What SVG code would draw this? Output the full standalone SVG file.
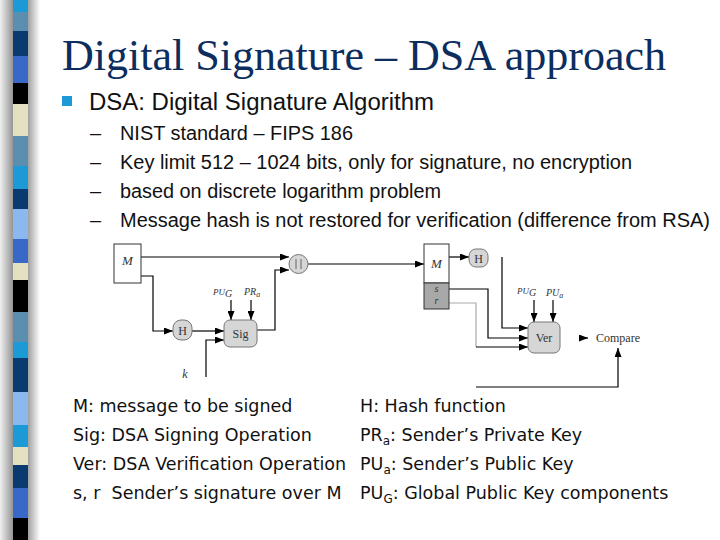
<svg xmlns="http://www.w3.org/2000/svg" width="720" height="540" viewBox="0 0 720 540">
<defs>
<linearGradient id="shL" x1="0" x2="1" y1="0" y2="0"><stop offset="0" stop-color="#f0f0f0"/><stop offset="1" stop-color="#959595"/></linearGradient>
<linearGradient id="shR" x1="0" x2="1" y1="0" y2="0"><stop offset="0" stop-color="#a0a0a0"/><stop offset="1" stop-color="#ffffff"/></linearGradient>
<marker id="ah" viewBox="0 0 9 7" refX="9" refY="3.5" markerWidth="9" markerHeight="7" markerUnits="userSpaceOnUse" orient="auto"><path d="M0,0 L9,3.5 L0,7 z" fill="#000"/></marker>
<style>
.title{font-family:"Liberation Serif",serif;font-size:44px;fill:#0c2d5e}
.b1{font-family:"Liberation Sans",Arial,sans-serif;font-size:23px;fill:#111}
.b2{font-family:"Liberation Sans",Arial,sans-serif;font-size:20px;fill:#111}
.lg{font-family:"DejaVu Sans",Verdana,sans-serif;font-size:17.5px;fill:#111}
.dt{font-family:"Liberation Serif",serif;font-size:12px;fill:#333}
.di{font-family:"Liberation Serif",serif;font-style:italic;fill:#333}
.box{fill:#fff;stroke:#333;stroke-width:1}
.nd{fill:#d6d6d6;stroke:#777;stroke-width:1}
.cn{fill:none;stroke:#000;stroke-width:1.2}
.cg{fill:none;stroke:#aaa;stroke-width:1.2}
</style>
</defs>
<rect width="720" height="540" fill="#fff"/>
<g id="strip">
<rect x="0" y="0" width="13" height="540" fill="url(#shL)"/>
<rect x="28" y="0" width="12" height="540" fill="url(#shR)"/>
<rect x="13" y="0" width="15" height="12" fill="#1c9ad6"/>
<rect x="13" y="12" width="15" height="19" fill="#5a8fb0"/>
<rect x="13" y="31" width="15" height="25" fill="#0a3a70"/>
<rect x="13" y="56" width="15" height="27" fill="#3868c8"/>
<rect x="13" y="83" width="15" height="21" fill="#000"/>
<rect x="13" y="104" width="15" height="32" fill="#e3e1c1"/>
<rect x="13" y="136" width="15" height="30" fill="#5a8fb0"/>
<rect x="13" y="166" width="15" height="23" fill="#1c9ad6"/>
<rect x="13" y="189" width="15" height="20" fill="#0a3a70"/>
<rect x="13" y="209" width="15" height="30" fill="#8cb8f0"/>
<rect x="13" y="239" width="15" height="24" fill="#3868c8"/>
<rect x="13" y="263" width="15" height="17" fill="#e3e1c1"/>
<rect x="13" y="280" width="15" height="32" fill="#000"/>
<rect x="13" y="312" width="15" height="30" fill="#5a8fb0"/>
<rect x="13" y="342" width="15" height="16" fill="#1c9ad6"/>
<rect x="13" y="358" width="15" height="34" fill="#0a3a70"/>
<rect x="13" y="392" width="15" height="33" fill="#8cb8f0"/>
<rect x="13" y="425" width="15" height="22" fill="#1c9ad6"/>
<rect x="13" y="447" width="15" height="18" fill="#e3e1c1"/>
<rect x="13" y="465" width="15" height="23" fill="#0a3a70"/>
<rect x="13" y="488" width="15" height="30" fill="#3868c8"/>
<rect x="13" y="518" width="15" height="22" fill="#000"/>
</g>
<text class="title" x="62" y="70" textLength="604" lengthAdjust="spacingAndGlyphs">Digital Signature – DSA approach</text>
<g id="bullets">
<rect x="62" y="96" width="10" height="10" fill="#1c9ad6"/>
<text class="b1" x="89" y="110" textLength="345" lengthAdjust="spacingAndGlyphs">DSA: Digital Signature Algorithm</text>
<text class="b2" x="90" y="140">–</text>
<text class="b2" x="120" y="140" textLength="233" lengthAdjust="spacingAndGlyphs">NIST standard – FIPS 186</text>
<text class="b2" x="90" y="169">–</text>
<text class="b2" x="120" y="169" textLength="512" lengthAdjust="spacingAndGlyphs">Key limit 512 – 1024 bits, only for signature, no encryption</text>
<text class="b2" x="90" y="198">–</text>
<text class="b2" x="120" y="198" textLength="321" lengthAdjust="spacingAndGlyphs">based on discrete logarithm problem</text>
<text class="b2" x="90" y="227">–</text>
<text class="b2" x="120" y="227" textLength="590" lengthAdjust="spacingAndGlyphs">Message hash is not restored for verification (difference from RSA)</text>
</g>
<g id="connectors">
<path class="cn" d="M141,257 H289" marker-end="url(#ah)"/>
<path class="cn" d="M141,276 H153 V331 H173" marker-end="url(#ah)"/>
<path class="cn" d="M192,331 H224" marker-end="url(#ah)"/>
<path class="cn" d="M206,377 V340 H224" marker-end="url(#ah)"/>
<path class="cn" d="M231,300 V320" marker-end="url(#ah)"/>
<path class="cn" d="M251,300 V320" marker-end="url(#ah)"/>
<path class="cn" d="M257,330 H275 V270 H289" marker-end="url(#ah)"/>
<path class="cn" d="M308,264 H424" marker-end="url(#ah)"/>
<path class="cn" d="M449,257 H469" marker-end="url(#ah)"/>
<path class="cn" d="M449,289 H488 V338 H528" marker-end="url(#ah)"/>
<path class="cg" d="M449,303 H476 V347"/>
<path class="cn" d="M476,347 H528" marker-end="url(#ah)"/>
<path class="cn" d="M502,257 V328 H528" marker-end="url(#ah)"/>
<path class="cn" d="M534,300 V322" marker-end="url(#ah)"/>
<path class="cn" d="M553,300 V322" marker-end="url(#ah)"/>
<path class="cn" d="M579,338 H588" marker-end="url(#ah)"/>
<path class="cn" d="M476,387 H618 V348" marker-end="url(#ah)"/>
</g>
<g id="M1">
<rect class="box" x="114" y="244" width="27" height="39"/>
<text class="di" x="127.5" y="265" font-size="13" text-anchor="middle">M</text>
</g>
<g id="H1">
<rect class="nd" x="173" y="320" width="19" height="20" rx="8"/>
<text class="dt" x="182.5" y="335" font-size="13" text-anchor="middle">H</text>
</g>
<g id="Sig">
<rect class="nd" x="224" y="320" width="33" height="27" rx="6"/>
<text class="dt" x="240.5" y="338" text-anchor="middle">Sig</text>
</g>
<g id="k">
<text class="di" x="185" y="378" font-size="12" text-anchor="middle">k</text>
</g>
<g id="keys1">
<text class="di" x="213" y="295" font-size="9">PU<tspan font-size="10" dy="2">G</tspan></text>
<text class="di" x="244" y="295" font-size="10">PR<tspan font-size="8" dy="2">a</tspan></text>
</g>
<g id="concat">
<circle class="nd" cx="298.5" cy="264" r="9.5"/>
<path d="M296,259 V269 M301,259 V269" stroke="#666" stroke-width="1"/>
</g>
<g id="M2">
<rect class="box" x="424" y="244" width="25" height="39"/>
<rect x="424" y="283" width="25" height="26" fill="#a8a8a8" stroke="#333" stroke-width="1"/>
<text class="di" x="436.5" y="268" font-size="13" text-anchor="middle">M</text>
<text class="di" x="436.5" y="292" font-size="10" text-anchor="middle">s</text>
<text class="di" x="436.5" y="304" font-size="10" text-anchor="middle">r</text>
</g>
<g id="H2">
<rect class="nd" x="469" y="249" width="19" height="18" rx="7"/>
<text class="dt" x="478.5" y="263" font-size="13" text-anchor="middle">H</text>
</g>
<g id="keys2">
<text class="di" x="517" y="294" font-size="9">PU<tspan font-size="10" dy="2">G</tspan></text>
<text class="di" x="546" y="296" font-size="10">PU<tspan font-size="8" dy="2">a</tspan></text>
</g>
<g id="Ver">
<rect class="nd" x="528" y="322" width="32" height="31" rx="6"/>
<text class="dt" x="544" y="342" text-anchor="middle">Ver</text>
</g>
<g id="Compare">
<text class="dt" x="596" y="342" font-size="11">Compare</text>
</g>
<g id="legend">
<text class="lg" x="73" y="412">M: message to be signed</text>
<text class="lg" x="73" y="441">Sig: DSA Signing Operation</text>
<text class="lg" x="73" y="470">Ver: DSA Verification Operation</text>
<text class="lg" x="73" y="499">s, r &#160;Sender’s signature over M</text>
<text class="lg" x="360" y="412">H: Hash function</text>
<text class="lg" x="360" y="441">PR<tspan font-size="12" dy="4">a</tspan><tspan dy="-4">: Sender’s Private Key</tspan></text>
<text class="lg" x="360" y="470">PU<tspan font-size="12" dy="4">a</tspan><tspan dy="-4">: Sender’s Public Key</tspan></text>
<text class="lg" x="360" y="499">PU<tspan font-size="12" dy="4">G</tspan><tspan dy="-4">: Global Public Key components</tspan></text>
</g>
</svg>
